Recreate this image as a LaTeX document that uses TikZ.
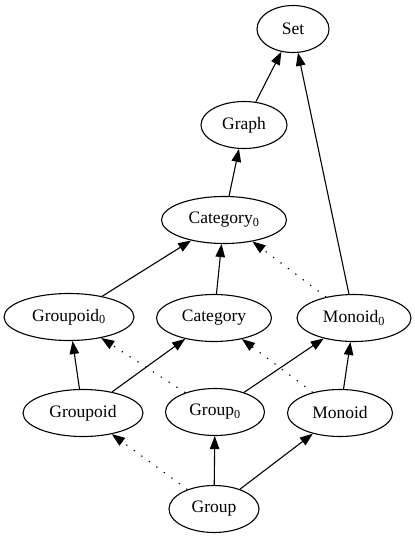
\documentclass[tikz,border=0pt]{standalone}
\usepackage{fontspec}
\setmainfont{Liberation Serif}
\usetikzlibrary{shapes.geometric,arrows.meta}
\tikzset{
  nd/.style={draw, ellipse, line width=1.1pt, inner sep=0pt, minimum height=47pt,
    font=\fontsize{17.5}{20}\selectfont},
  ed/.style={line width=1.1pt, -{Triangle[length=13pt,width=9.5pt]}},
  dt/.style={ed, dash pattern=on 1.3pt off 8pt},
}
\newcommand{\zsub}{\textsubscript{0}}
\begin{document}
\begin{tikzpicture}[x=1pt,y=-1pt]
\useasboundingbox (0,0) rectangle (415,539);
\node[nd, minimum width=72pt]  (set)   at (293,29)  {Set};
\node[nd, minimum width=86pt]  (graph) at (244,125) {Graph};
\node[nd, minimum width=125pt] (cat0)  at (224,220) {Category\zsub};
\node[nd, minimum width=130pt] (gpd0)  at (69,317)  {Groupoid\zsub};
\node[nd, minimum width=115pt] (cat)   at (214,318) {Category};
\node[nd, minimum width=114pt] (mon0)  at (354,318) {Monoid\zsub};
\node[nd, minimum width=120pt] (gpd)   at (83,413)  {Groupoid};
\node[nd, minimum width=99pt]  (grp0)  at (215,412) {Group\zsub};
\node[nd, minimum width=105pt] (mon)   at (340,413) {Monoid};
\node[nd, minimum width=90pt]  (grp)   at (214,509) {Group};

\draw[ed] (graph) -- (set);
\draw[ed] (mon0) -- (set);
\draw[ed] (cat0) -- (graph);
\draw[ed] (gpd0) -- (cat0);
\draw[ed] (cat) -- (cat0);
\draw[dt] (mon0) -- (cat0);
\draw[ed] (gpd) -- (gpd0);
\draw[ed] (gpd) -- (cat);
\draw[dt] (grp0) -- (gpd0);
\draw[ed] (grp0) -- (mon0);
\draw[dt] (mon) -- (cat);
\draw[ed] (mon) -- (mon0);
\draw[dt] (grp) -- (gpd);
\draw[ed] (grp) -- (grp0);
\draw[ed] (grp) -- (mon);
\end{tikzpicture}
\end{document}
